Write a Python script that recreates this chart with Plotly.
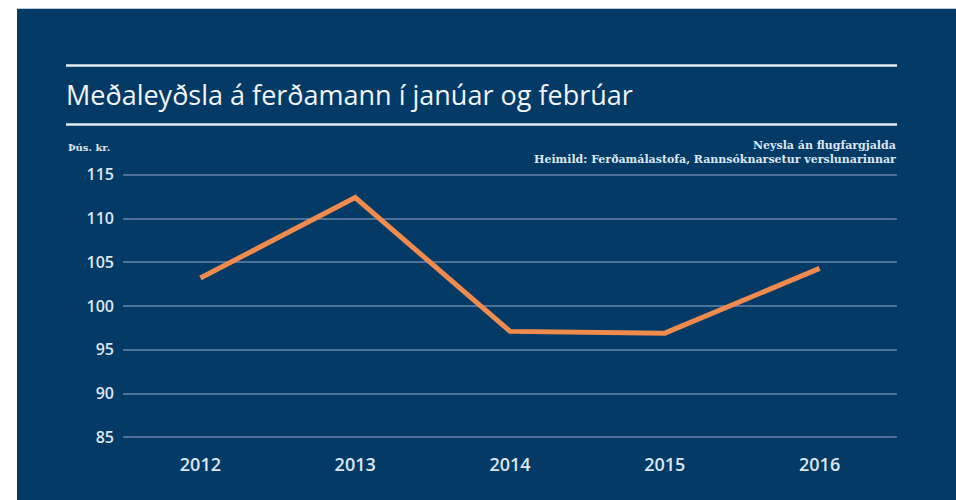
import plotly.graph_objects as go

years = [2012, 2013, 2014, 2015, 2016]
spend = [103.2, 112.4, 97.1, 96.9, 104.3]
y_ticks = [85, 90, 95, 100, 105, 110, 115]

title = "Meðaleyðsla á ferðamann í janúar og febrúar"
unit_label = "Þús. kr."
note_lines = ["Neysla án flugfargjalda", "Heimild: Ferðamálastofa, Rannsóknarsetur verslunarinnar"]

NAVY = "#033a66"
ORANGE = "#f08b4d"
GRID = "#4d729a"
TEXT = "#dde6f0"

W, H = 956, 500
L, R = 123, 897
T, B = 165.7, 446.5


def px(p):
    return (p - L) / (R - L)


def py(q):
    return (B - q) / (B - T)


fig = go.Figure()
fig.add_trace(go.Scatter(
    x=years, y=spend, mode="lines",
    line=dict(color=ORANGE, width=5),
    hoverinfo="x+y", showlegend=False,
))

shapes = [
    dict(type="rect", xref="paper", yref="paper", x0=px(17), x1=px(970), y0=py(510), y1=py(8),
         fillcolor=NAVY, line=dict(width=0), layer="below"),
    dict(type="line", xref="paper", yref="paper", x0=px(66), x1=px(897), y0=py(65), y1=py(65),
         line=dict(color="#e6edf5", width=2.5)),
    dict(type="line", xref="paper", yref="paper", x0=px(66), x1=px(897), y0=py(124), y1=py(124),
         line=dict(color="#e6edf5", width=2.5)),
]

annotations = [
    dict(text=title, xref="paper", yref="paper", x=px(64), y=py(94), xanchor="left", yanchor="middle",
         showarrow=False, font=dict(family="Open Sans", size=27, color="#f2f5f9")),
    dict(text=unit_label, xref="paper", yref="paper", x=px(66), y=py(147), xanchor="left", yanchor="middle",
         showarrow=False, font=dict(family="DejaVu Serif", size=10, color=TEXT, weight="bold")),
    dict(text="<br>".join(note_lines), xref="paper", yref="paper", x=px(898), y=py(152),
         xanchor="right", yanchor="middle", align="right",
         showarrow=False, font=dict(family="DejaVu Serif", size=11, color=TEXT, weight="bold")),
]

fig.update_layout(
    width=W, height=H,
    margin=dict(l=L, r=W - R, t=T, b=H - B, pad=0),
    paper_bgcolor="white",
    plot_bgcolor=NAVY,
    shapes=shapes,
    annotations=annotations,
    xaxis=dict(
        range=[2011.5, 2016.5], tickvals=years, ticktext=[str(y) for y in years],
        showgrid=False, zeroline=False, showline=False, ticks="",
        tickfont=dict(family="Open Sans", size=18, color=TEXT, weight=600),
        ticklabelstandoff=6,
        fixedrange=True,
    ),
    yaxis=dict(
        range=[84, 116], tickvals=y_ticks, ticktext=[str(v) for v in y_ticks],
        showgrid=True, gridcolor=GRID, gridwidth=2, zeroline=False, showline=False,
        ticks="", ticklabelstandoff=8,
        tickfont=dict(family="Open Sans", size=16, color=TEXT, weight=600),
        fixedrange=True,
    ),
)

fig.write_html(
    "out.html",
    config={"displayModeBar": False},
    post_script="document.body.style.margin='0';document.body.style.overflow='hidden';",
)
